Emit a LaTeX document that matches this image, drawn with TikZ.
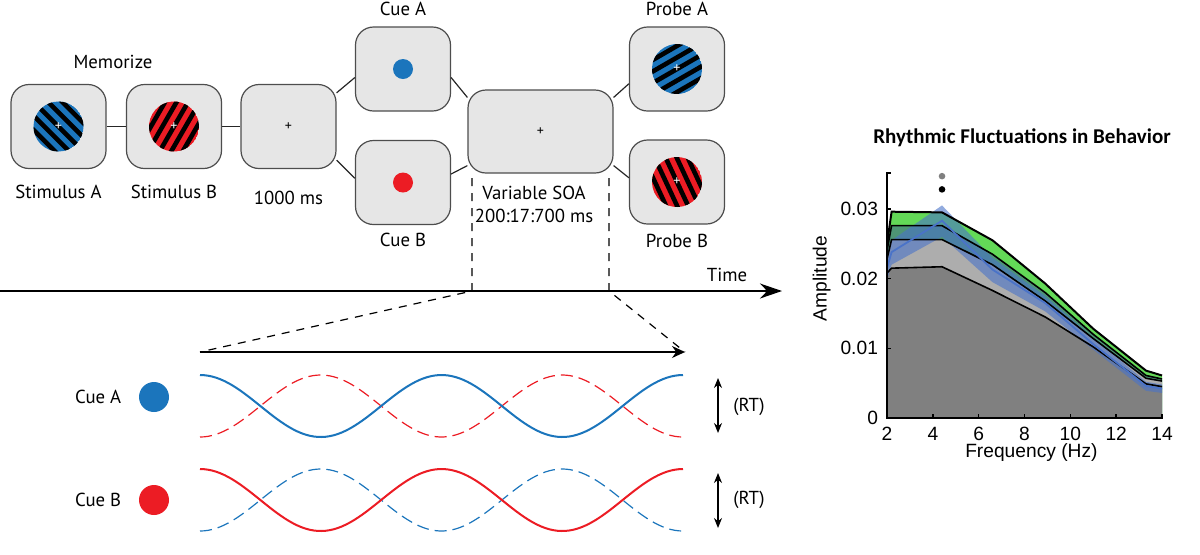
\documentclass[tikz,border=0pt]{standalone}
\usepackage{fontspec}
\setmainfont{PT Sans}
\newfontfamily\plotfont{Liberation Sans}
\newfontfamily\titlefont{Carlito}
\usetikzlibrary{positioning, arrows.meta}

\definecolor{cueblue}{HTML}{1B75BC}
\definecolor{cuered}{HTML}{EC1C24}
\definecolor{screengray}{HTML}{E6E6E6}
\definecolor{framegray}{HTML}{4D4D4D}
\definecolor{ampgreen}{HTML}{63D957}
\definecolor{ampteal}{HTML}{4E9575}
\definecolor{ampblue}{HTML}{4A73C8}
\definecolor{darkfill}{HTML}{808080}
\definecolor{lightfill}{HTML}{ADADAD}

% striped disc: centre node, colour, stripe angle
\newcommand\grating[3]{%
  \begin{scope}[shift={(#1)}, rotate=#3]
    \clip (0,0) circle (25);
    \fill[#2] (0,0) circle (25);
    \foreach \k in {-3,...,3}
      \fill[black] (\k*10-2.3,-30) rectangle ++(4.6,60);
  \end{scope}
  \node[text=white, font=\fontsize{7}{7}\selectfont, inner sep=0pt] at (#1) {+};}

\begin{document}
\begin{tikzpicture}[x=0.5pt, y=-0.5pt,
    screen/.style = { draw = framegray, fill = screengray, line width = 0.6pt,
                      rounded corners = 9pt, minimum width = 47.5pt, minimum height = 42pt,
                      font = \fontsize{7}{7}\selectfont },
    wide/.style = { screen, minimum width = 72.5pt, minimum height = 41.5pt },
    lab/.style = { font = \fontsize{9.4}{11}\selectfont, inner sep = 0pt },
    link/.style = { draw = black!85, line width = 0.6pt },
    guide/.style = { line width = 0.6pt, dash pattern = on 4pt off 3.5pt },
    wave/.style = { line width = 1pt },
    ghost/.style = { line width = 0.6pt, dash pattern = on 6pt off 3pt },
    dot/.style = { circle, inner sep = 0pt, minimum size = #1 }]

  \useasboundingbox (0,0) rectangle (1200,554);

  % trial sequence
  \node[screen] (stimA) at (58.5,126.5) {};
  \node[screen] (stimB) at (174,126.5) {};
  \node[screen] (fix) at (288.5,126.5) {+};
  \node[screen] (cueA) at (403,69) {};
  \node[screen] (cueB) at (403,182.5) {};
  \node[wide] (soa) at (540.5,131.5) {+};
  \node[screen] (probeA) at (677,69) {};
  \node[screen] (probeB) at (677,182) {};

  \grating{stimA}{cueblue}{45}
  \grating{stimB}{cuered}{-30}
  \grating{probeA}{cueblue}{-60}
  \grating{probeB}{cuered}{25}
  \node[dot = 10pt, fill = cueblue] (cueAdot) at (cueA) {};
  \node[dot = 10pt, fill = cuered] (cueBdot) at (cueB) {};

  \draw[link] (stimA) -- (stimB);
  \draw[link] (stimB) -- (fix);
  \draw[link] (fix.35) -- (cueA.190);
  \draw[link] (fix.-35) -- (cueB.175);
  \draw[link] (cueA.-10) -- (soa.155);
  \draw[link] (cueB.10) -- (soa.205);
  \draw[link] (soa.25) -- (probeA.197);
  \draw[link] (soa.-25) -- (probeB.175);

  \node[lab] (memo) at (113,62) {Memorize};
  \node[lab, below = 8pt of stimA] (stimAlab) {Stimulus A};
  \node[lab, below = 8pt of stimB] (stimBlab) {Stimulus B};
  \node[lab, below = 11pt of fix] (fixlab) {1000 ms};
  \node[lab, above = 5pt of cueA] (cueAlab) {Cue A};
  \node[lab, below = 4pt of cueB] (cueBlab) {Cue B};
  \node[lab, above = 5pt of probeA] (probeAlab) {Probe A};
  \node[lab, below = 4.5pt of probeB] (probeBlab) {Probe B};
  \node[lab] (soalab) at (534,193) {Variable SOA};
  \node[lab, below = 4pt of soalab] (soarange) {200:17:700 ms};

  % time line and zoom
  \coordinate (t0) at (0,291);
  \coordinate (t1) at (782,291);
  \draw[line width = 0.8pt, -{Stealth[length = 11pt, width = 7.5pt]}] (t0) -- (t1);
  \node[lab] (time) at (727,275) {Time};

  \coordinate (g1) at (472,178);
  \coordinate (g1b) at (472,291);
  \coordinate (g2) at (609,178);
  \coordinate (g2b) at (609,291);
  \coordinate (z0) at (200,352);
  \coordinate (z1) at (685,352);
  \draw[guide] (g1) -- (g1b) -- (z0);
  \draw[guide] (g2) -- (g2b) -- (z1);
  \draw[line width = 0.6pt, -{Stealth[length = 6.5pt, width = 6pt]}] (z0) -- (z1);

  % oscillations
  \draw[ghost, cuered] plot[domain = 200:683, samples = 120] (\x, {406+31*cos((\x-200)/241.5*360)});
  \draw[wave, cueblue] plot[domain = 200:683, samples = 120] (\x, {406-31*cos((\x-200)/241.5*360)});
  \draw[ghost, cueblue] plot[domain = 200:683, samples = 120] (\x, {500+31*cos((\x-200)/241.5*360)});
  \draw[wave, cuered] plot[domain = 200:683, samples = 120] (\x, {500-31*cos((\x-200)/241.5*360)});

  \node[dot = 15pt, fill = cueblue] (dotA) at (154,397) {};
  \node[dot = 15pt, fill = cuered] (dotB) at (154,500) {};
  \node[lab, left = 8.5pt of dotA] (rowA) {Cue A};
  \node[lab, left = 8.5pt of dotB] (rowB) {Cue B};

  \coordinate (rtA1) at (718,378);
  \coordinate (rtA2) at (718,433);
  \coordinate (rtB1) at (718,473);
  \coordinate (rtB2) at (718,528);
  \draw[line width = 0.6pt, {Stealth[length = 5pt, width = 4pt]}-{Stealth[length = 5pt, width = 4pt]}] (rtA1) -- (rtA2);
  \draw[line width = 0.6pt, {Stealth[length = 5pt, width = 4pt]}-{Stealth[length = 5pt, width = 4pt]}] (rtB1) -- (rtB2);
  \node[lab] (rtA) at (749,407) {(RT)};
  \node[lab] (rtB) at (749,500) {(RT)};

  % spectrum
  \node[font = \titlefont\bfseries\fontsize{10.5}{12}\selectfont] (ttl) at (1022,138) {Rhythmic Fluctuations in Behavior};
  \begin{scope}[shift = {(841.16,418)}, x = 11.46pt, y = 3.485pt,
                every node/.style = { font = \plotfont\fontsize{9.6}{11}\selectfont }]
    \fill[ampgreen] (2,0) -- plot coordinates {(2,25) (2.2,29.6) (4.4,29.5) (6.6,25.5) (8.9,19.3) (11,12.8) (13.3,6.8) (14,6.1)} -- (14,0) -- cycle;
    \fill[ampteal] (2,0) -- plot coordinates {(2,24) (2.2,27.6) (4.4,27.6) (6.6,23.5) (8.9,18) (11,12) (13.3,6.1) (14,5.6)} -- (14,0) -- cycle;
    \fill[lightfill] (2,0) -- plot coordinates {(2,22.8) (2.2,25.6) (4.4,25.6) (6.6,22) (8.9,16.8) (11,11.4) (13.3,5.7) (14,5.3)} -- (14,0) -- cycle;
    \fill[darkfill] (2,0) -- plot coordinates {(2,20.8) (2.2,21.5) (4.4,21.7) (6.6,18.3) (8.9,14.5) (11,10.2) (13.3,4.9) (14,4.5)} -- (14,0) -- cycle;
    \fill[ampblue, opacity = 0.6] plot coordinates {(2,23.5) (2.2,25.5) (4.4,30.5) (6.6,23) (8.9,17.5) (11,11.5) (13.3,5.2) (14,4.8)}
      -- plot coordinates {(14,3.6) (13.3,3.9) (11,9.8) (8.9,15.3) (6.6,19.5) (4.4,26) (2.2,22) (2,19.8)} -- cycle;

    \draw[line width = 1pt] plot coordinates {(2,25) (2.2,29.6) (4.4,29.5) (6.6,25.5) (8.9,19.3) (11,12.8) (13.3,6.8) (14,6.1)};
    \draw[line width = 0.8pt] plot coordinates {(2,24) (2.2,27.6) (4.4,27.6) (6.6,23.5) (8.9,18) (11,12) (13.3,6.1) (14,5.6)};
    \draw[line width = 0.8pt] plot coordinates {(2,22.8) (2.2,25.6) (4.4,25.6) (6.6,22) (8.9,16.8) (11,11.4) (13.3,5.7) (14,5.3)};
    \draw[line width = 0.8pt] plot coordinates {(2,20.8) (2.2,21.5) (4.4,21.7) (6.6,18.3) (8.9,14.5) (11,10.2) (13.3,4.9) (14,4.5)};
    \draw[ampblue, line width = 0.9pt] plot coordinates {(2,21.5) (2.2,23.8) (4.4,28.3) (6.6,21.3) (8.9,16.5) (11,10.6) (13.3,4.6) (14,4.2)};

    \fill[gray] (4.4,34.7) circle[radius = 1.65pt];
    \fill[black] (4.4,32.8) circle[radius = 1.65pt];

    \draw[line width = 0.9pt] (2.17,35.2) -- (2,35.2) -- (2,0) -- (14,0) -- (14,0.6);
    \foreach \f in {2,4,...,12}
      \draw[line width = 0.8pt] (\f,0) -- ++(0,0.6);
    \foreach \f in {2,4,...,14}
      \node[below = 1pt] (xt\f) at (\f,0) {\f};
    \foreach \a/\t in {0/0, 10/0.01, 20/0.02, 30/0.03} {
      \draw[line width = 0.8pt] (2,\a) -- ++(0.17,0);
      \node[left = 1pt] (yt\a) at (2,\a) {\t};
    }
    \node (xlab) at (8.3,-5) {Frequency (Hz)};
    \node[rotate = 90] (ylab) at (-0.85,20) {Amplitude};
  \end{scope}

\end{tikzpicture}
\end{document}
